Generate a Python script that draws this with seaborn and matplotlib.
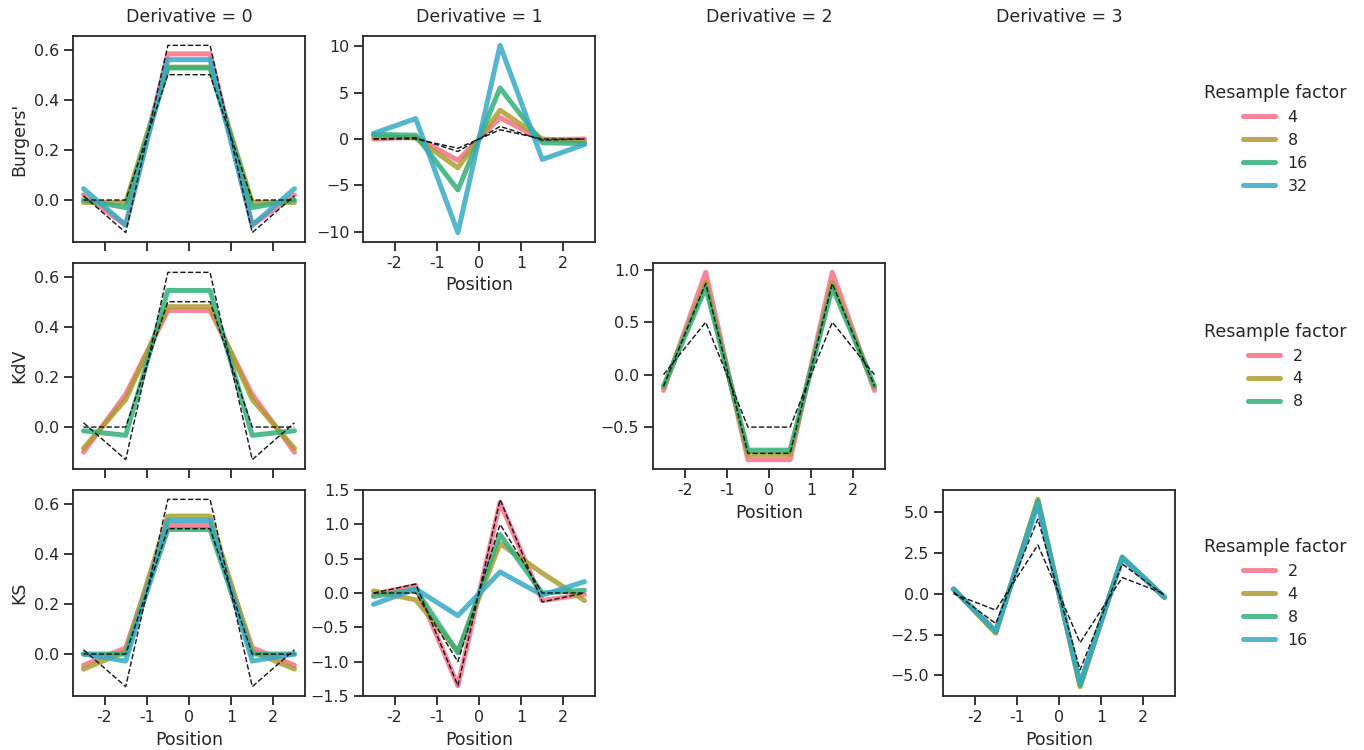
import numpy as np
import pandas as pd
import matplotlib.pyplot as plt
import seaborn as sns

sns.set_theme(context='notebook', style='ticks')

# grid positions of the stencil and tick labels
positions = [-2.5, -1.5, -0.5, 0.5, 1.5, 2.5]
xtick_vals = [-2, -1, 0, 1, 2]
xtick_labels = ['-2', '-1', '0', '1', '2']

equations = ["Burgers'", 'KdV', 'KS']
derivatives = [0, 1, 2, 3]

# Burgers' equation
burgers_factors = ['4', '8', '16', '32']
burgers_d0 = {
    '4': [0.02, -0.10, 0.583, 0.583, -0.10, 0.02],
    '8': [-0.01, -0.01, 0.53, 0.53, -0.01, -0.01],
    '16': [0.0, -0.03, 0.527, 0.527, -0.03, 0.0],
    '32': [0.045, -0.10, 0.56, 0.56, -0.10, 0.045],
}
burgers_d1 = {
    '4': [0.0, 0.2, -2.3, 2.3, -0.1, 0.0],
    '8': [0.3, 0.1, -3.1, 3.1, 0.0, -0.3],
    '16': [0.5, 0.4, -5.5, 5.5, -0.4, -0.5],
    '32': [0.6, 2.2, -10.1, 10.1, -2.2, -0.6],
}

# KdV equation
kdv_factors = ['2', '4', '8']
kdv_d0 = {
    '2': [-0.10, 0.13, 0.465, 0.465, 0.13, -0.10],
    '4': [-0.085, 0.11, 0.48, 0.48, 0.11, -0.085],
    '8': [-0.015, -0.033, 0.545, 0.545, -0.033, -0.015],
}
kdv_d2 = {
    '2': [-0.15, 0.975, -0.81, -0.81, 0.975, -0.15],
    '4': [-0.12, 0.88, -0.76, -0.76, 0.88, -0.12],
    '8': [-0.11, 0.83, -0.72, -0.72, 0.83, -0.11],
}

# KS equation
ks_factors = ['2', '4', '8', '16']
ks_d0 = {
    '2': [-0.045, 0.025, 0.515, 0.515, 0.025, -0.045],
    '4': [-0.06, 0.01, 0.55, 0.55, 0.01, -0.06],
    '8': [0.0, 0.0, 0.497, 0.497, 0.0, 0.0],
    '16': [0.0, -0.028, 0.533, 0.533, -0.028, 0.0],
}
ks_d1 = {
    '2': [-0.02, 0.11, -1.35, 1.32, -0.11, -0.02],
    '4': [0.03, -0.10, -0.85, 0.72, 0.29, -0.11],
    '8': [-0.05, 0.05, -0.87, 0.85, 0.0, 0.04],
    '16': [-0.165, 0.06, -0.33, 0.306, -0.03, 0.165],
}
ks_d3 = {
    '2': [0.28, -2.3, 5.65, -5.6, 2.2, -0.22],
    '4': [0.3, -2.42, 5.8, -5.7, 2.25, -0.22],
    '8': [0.28, -2.35, 5.7, -5.62, 2.25, -0.2],
    '16': [0.28, -2.3, 5.5, -5.5, 2.2, -0.22],
}

# dashed reference stencils
ref_d0 = [[0, 0, 0.5, 0.5, 0, 0],
          [0.017, -0.13, 0.617, 0.617, -0.13, 0.017]]
ref_d1 = [[0, 0, -1.0, 1.0, 0, 0],
          [0, 0.13, -1.35, 1.36, -0.13, 0]]
ref_d2 = [[0, 0.5, -0.5, -0.5, 0.5, 0],
          [-0.11, 0.87, -0.75, -0.75, 0.87, -0.11]]
ref_d3 = [[0, -1, 3, -3, 1, 0],
          [0.1, -1.83, 4.6, -4.67, 1.83, -0.1]]

panels = [
    (0, 0, burgers_factors, burgers_d0, ref_d0),
    (0, 1, burgers_factors, burgers_d1, ref_d1),
    (1, 0, kdv_factors, kdv_d0, ref_d0),
    (1, 2, kdv_factors, kdv_d2, ref_d2),
    (2, 0, ks_factors, ks_d0, ref_d0),
    (2, 1, ks_factors, ks_d1, ref_d1),
    (2, 3, ks_factors, ks_d3, ref_d3),
]
# axes that show x tick labels
labelled = {(0, 1), (1, 2), (2, 0), (2, 1), (2, 3)}

palette = sns.color_palette('husl', 5)

fig, axes = plt.subplots(3, 4, figsize=(13.116, 7.2116), dpi=104)
fig.subplots_adjust(left=0.0535, right=0.8614, bottom=0.072, top=0.952,
                    wspace=0.25, hspace=0.102)

for c, d in enumerate(derivatives):
    axes[0, c].set_title(f'Derivative = {d}', pad=10)

used = set()
for r, c, factors, data, refs in panels:
    ax = axes[r, c]
    used.add((r, c))
    df = pd.DataFrame(
        [(f, x, y) for f in factors for x, y in zip(positions, data[f])],
        columns=['Resample factor', 'Position', 'value'])
    sns.lineplot(data=df, x='Position', y='value', hue='Resample factor',
                 hue_order=factors, palette=palette[:len(factors)],
                 lw=3.5, alpha=0.85, ax=ax, legend=(c == 0))
    for ref in refs:
        ax.plot(positions, ref, color='k', ls='--', lw=1, zorder=4)
    ax.set_xticks(xtick_vals)
    ax.set_xticklabels(xtick_labels)
    if (r, c) in labelled:
        ax.set_xlabel('Position')
    else:
        ax.set_xlabel('')
        ax.tick_params(labelbottom=False)
    ax.set_ylabel(equations[r] if c == 0 else '')

    if c == 0:
        leg = ax.get_legend()
        handles = leg.legend_handles
        labels = [t.get_text() for t in leg.get_texts()]
        leg.remove()
        pos = ax.get_position()
        fig.legend(handles, labels, title='Resample factor', loc='center',
                   bbox_to_anchor=(0.935, (pos.y0 + pos.y1) / 2),
                   frameon=False)

axes[2, 1].set_ylim(-1.5, 1.5)

for r in range(3):
    for c in range(4):
        if (r, c) not in used:
            axes[r, c].axis('off')

fig.savefig('out.png', dpi=104)
